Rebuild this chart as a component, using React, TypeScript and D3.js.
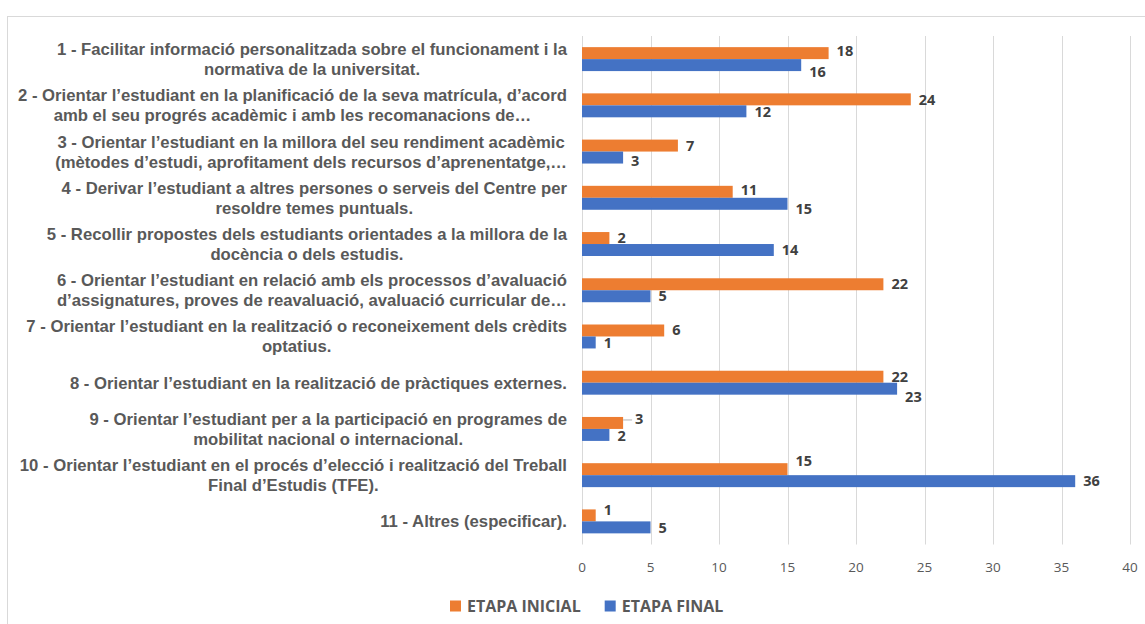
import React, { useEffect, useRef } from "react";
import * as d3 from "d3";

// ---------- DATA ----------
const categoryLines: string[][] = [
  ["1 - Facilitar informació personalitzada sobre el funcionament i la", "normativa de la universitat."],
  ["2 - Orientar l’estudiant en la planificació de la seva matrícula, d’acord", "amb el seu progrés acadèmic i amb les recomanacions de…"],
  ["3 - Orientar l’estudiant en la millora del seu rendiment acadèmic", "(mètodes d’estudi, aprofitament dels recursos d’aprenentatge,…"],
  ["4 - Derivar l’estudiant a altres persones o serveis del Centre per", "resoldre temes puntuals."],
  ["5 - Recollir propostes dels estudiants orientades a la millora de la", "docència o dels estudis."],
  ["6 - Orientar l’estudiant en relació amb els processos d’avaluació", "d’assignatures, proves de reavaluació, avaluació curricular de…"],
  ["7 - Orientar l’estudiant en la realització o reconeixement dels crèdits", "optatius."],
  ["8 - Orientar l’estudiant en la realització de pràctiques externes."],
  ["9 - Orientar l’estudiant per a la participació en programes de", "mobilitat nacional o internacional."],
  ["10 - Orientar l’estudiant en el procés d’elecció i realització del Treball", "Final d’Estudis (TFE)."],
  ["11 - Altres (especificar)."],
];
const etapaInicial: number[] = [18, 24, 7, 11, 2, 22, 6, 22, 3, 15, 1];
const etapaFinal: number[] = [16, 12, 3, 15, 14, 5, 1, 23, 2, 36, 5];
const seriesNames: string[] = ["ETAPA INICIAL", "ETAPA FINAL"];
const seriesColors: string[] = ["#ED7D31", "#4472C4"];
const xTicks: number[] = [0, 5, 10, 15, 20, 25, 30, 35, 40];
// small manual nudges of data labels (as in the reference)
const nudgeInicial: number[] = [-2, 1, 0, -2, 0, 0, 0, 0, -4, -8, -5];
const nudgeFinal: number[] = [7, 1, 3, 5, 0, 0, 1, 8, 1, 0, 1];
// categories whose ETAPA INICIAL label has a leader line
const leaderCategories: number[] = [8];

const W = 1145;
const H = 624;

export default function App() {
  const ref = useRef<SVGSVGElement | null>(null);

  useEffect(() => {
    const svg = d3.select(ref.current);
    svg.selectAll("*").remove();

    const left = 582, right = 1130, top = 36, bottom = 544.5;
    const x = d3.scaleLinear().domain([0, 40]).range([left, right]);
    const y = d3
      .scaleBand<number>()
      .domain(categoryLines.map((_, i) => i))
      .range([top, bottom])
      .paddingInner(0.482)
      .paddingOuter(0.241);
    const bh = y.bandwidth() / 2;

    // outer border
    svg.append("rect")
      .attr("x", 7.5).attr("y", 16.5)
      .attr("width", W).attr("height", H)
      .attr("fill", "#fff").attr("stroke", "#d9d9d9").attr("stroke-width", 1);

    // gridlines
    svg.append("g").selectAll("line").data(xTicks).join("line")
      .attr("x1", (d) => Math.round(x(d)) + 0.5).attr("x2", (d) => Math.round(x(d)) + 0.5)
      .attr("y1", top).attr("y2", bottom)
      .attr("stroke", "#d9d9d9").attr("stroke-width", 1);

    // tick labels
    svg.append("g").selectAll("text").data(xTicks).join("text")
      .attr("x", (d) => x(d)).attr("y", 572)
      .attr("text-anchor", "middle")
      .attr("font-family", "'Open Sans', sans-serif")
      .attr("font-size", 13.5)
      .attr("fill", "#595959")
      .text((d) => String(d));

    const series = [etapaInicial, etapaFinal];
    const nudges = [nudgeInicial, nudgeFinal];

    series.forEach((vals, s) => {
      const g = svg.append("g");
      g.selectAll("rect").data(vals).join("rect")
        .attr("x", x(0))
        .attr("y", (_, i) => (y(i) as number) + s * bh)
        .attr("width", (d) => x(d) - x(0))
        .attr("height", bh)
        .attr("fill", seriesColors[s]);

      if (s === 0) {
        g.selectAll("line.leader").data(leaderCategories).join("line")
          .attr("class", "leader")
          .attr("x1", (c) => x(vals[c])).attr("x2", (c) => x(vals[c]) + 9)
          .attr("y1", (c) => (y(c) as number) + bh / 2 + nudges[s][c] + 1)
          .attr("y2", (c) => (y(c) as number) + bh / 2 + nudges[s][c] + 1)
          .attr("stroke", "#bfbfbf").attr("stroke-width", 1.2);
      }

      g.selectAll("text").data(vals).join("text")
        .attr("x", (d, i) => x(d) + (s === 0 && leaderCategories.includes(i) ? 12 : 8))
        .attr("y", (_, i) => (y(i) as number) + s * bh + bh / 2 + nudges[s][i] + 5)
        .attr("font-family", "'Open Sans', sans-serif")
        .attr("font-weight", 700)
        .attr("font-size", 14.5)
        .attr("fill", "#404040")
        .text((d) => String(d));
    });

    // category labels
    const labelRight = 567;
    const lineH = 20;
    categoryLines.forEach((lines, i) => {
      const cy = (y(i) as number) + y.bandwidth() / 2;
      const g = svg.append("g");
      const texts = g.selectAll("text").data(lines).join("text")
        .attr("font-family", "'Liberation Sans', Arial, sans-serif")
        .attr("font-weight", 700)
        .attr("font-size", 16.7)
        .attr("fill", "#595959")
        .attr("text-anchor", "middle")
        .attr("y", (_, k) => cy + (k - (lines.length - 1) / 2) * lineH + 6)
        .text((d) => d);
      let maxW = 0;
      texts.each(function () {
        maxW = Math.max(maxW, (this as SVGTextElement).getComputedTextLength());
      });
      texts.attr("x", labelRight - maxW / 2);
    });

    // legend
    const legY = 606;
    const leg = svg.append("g");
    let lx = 450;
    seriesNames.forEach((name, s) => {
      leg.append("rect")
        .attr("x", lx).attr("y", legY - 5.5)
        .attr("width", 11).attr("height", 11)
        .attr("fill", seriesColors[s]);
      const t = leg.append("text")
        .attr("x", lx + 17).attr("y", legY + 6)
        .attr("font-family", "'Open Sans', sans-serif")
        .attr("font-weight", 700)
        .attr("font-size", 16)
        .attr("fill", "#595959")
        .text(name);
      const w = (t.node() as SVGTextElement).getComputedTextLength();
      lx = lx + 17 + w + 24;
    });
  }, []);

  return (
    <svg
      ref={ref}
      width={W}
      height={H}
      style={{ position: "absolute", left: 0, top: 0, background: "#fff" }}
    />
  );
}
